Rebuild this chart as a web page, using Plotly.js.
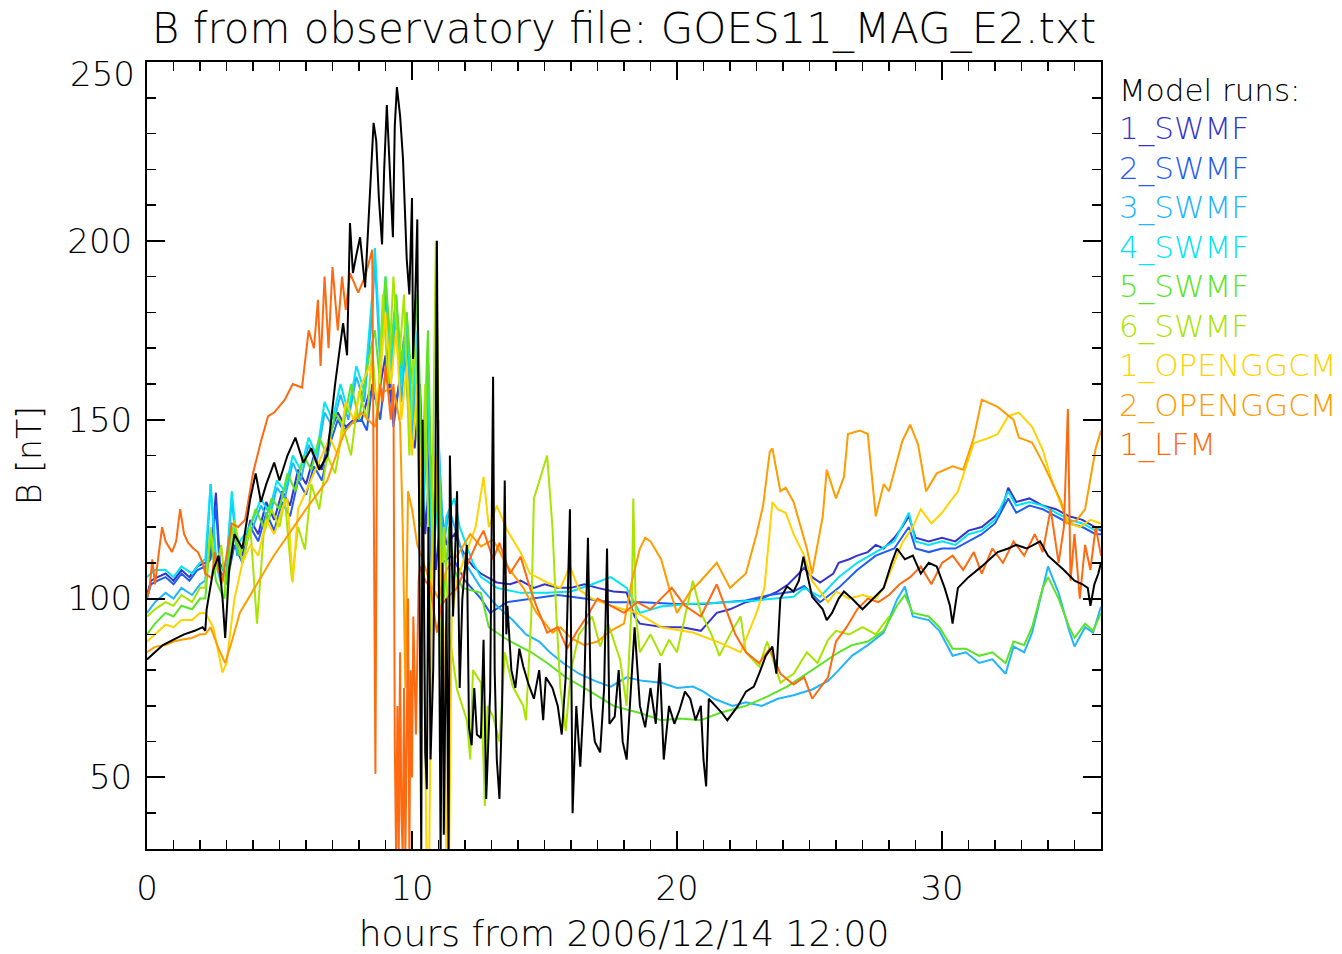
<!DOCTYPE html>
<html>
<head>
<meta charset="utf-8">
<script src="https://cdn.plot.ly/plotly-3.0.1.min.js"></script>
<style>
  html, body { margin: 0; padding: 0; background: #fff; }
  #chart { width: 1342px; height: 954px; }
</style>
</head>
<body>
<div id="chart"></div>
<script>
// ---- Data: [hours, B (nT)] ----
const observed = [[0,83],[0.3,85],[0.6,87],[1.0,88.5],[1.4,90],[1.8,91],[2.1,92],[2.2,91],[2.25,97],[2.5,108],[2.7,112],[2.85,100],[2.95,89],[3.1,108],[3.3,118],[3.6,114],[3.9,128],[4.1,135],[4.3,127],[4.5,132],[4.8,138],[5.0,133],[5.3,140],[5.6,145],[5.9,138],[6.2,142],[6.5,136],[6.8,140],[7.1,160],[7.4,177],[7.55,168],[7.66,205],[7.77,191],[7.9,196],[8.04,201],[8.23,187],[8.4,210],[8.55,233],[8.65,228],[8.75,212],[8.87,199],[8.95,220],[9.05,238],[9.15,222],[9.2,215],[9.28,201],[9.35,232],[9.43,243],[9.55,235],[9.66,223],[9.75,205],[9.8,195],[9.9,185],[10.0,212],[10.04,167],[10.1,178],[10.2,206],[10.25,150],[10.3,100],[10.35,28],[10.4,150],[10.45,100],[10.5,57],[10.56,46.7],[10.62,120],[10.7,55],[10.8,80],[10.88,130],[10.94,200],[11.0,120],[11.08,28],[11.15,110],[11.2,34],[11.3,100],[11.38,28],[11.43,140],[11.55,95],[11.7,130],[11.8,75],[11.9,100],[12.07,115],[12.15,64],[12.25,59],[12.35,75],[12.45,62],[12.6,61],[12.7,88.5],[12.8,44],[12.95,74],[13.06,162],[13.12,80],[13.2,55],[13.3,44],[13.4,70],[13.5,133],[13.56,90],[13.6,98],[13.75,80],[13.9,75],[14.05,86],[14.2,81],[14.4,76],[14.6,72],[14.8,80],[14.95,66],[15.05,78],[15.3,75],[15.5,70],[15.65,62],[15.8,78],[15.96,125],[16.06,40],[16.2,70],[16.35,53],[16.5,75],[16.64,117],[16.75,70],[16.9,60],[17.1,57],[17.25,75],[17.36,114],[17.45,65],[17.65,67],[17.8,80],[17.95,60],[18.1,55],[18.25,75],[18.4,92],[18.6,70],[18.8,64],[19.0,75],[19.2,65],[19.35,82],[19.5,55],[19.7,70],[19.9,65],[20.1,69],[20.3,74],[20.5,72],[20.7,66],[20.9,70],[21.0,55],[21.1,47.5],[21.2,72],[21.45,70],[21.7,68],[21.9,66],[22.3,70],[22.6,74],[22.9,75.4],[23.1,79],[23.35,84],[23.6,86.6],[23.75,79],[23.9,100],[24.15,103.4],[24.4,102],[24.6,105],[24.77,111.7],[25.1,100.5],[25.5,97],[25.65,94],[25.85,96],[26.1,100],[26.3,102],[26.6,100],[27.0,97],[27.4,100],[27.8,103],[28.1,110],[28.3,114],[28.6,111],[28.9,112],[29.2,107],[29.5,110],[29.8,109],[30.1,103],[30.3,98],[30.4,93],[30.6,103],[31.0,106],[31.5,109],[31.8,111],[32.1,113],[32.5,114],[32.8,115],[33.2,114],[33.7,116],[34.0,112],[34.3,110],[34.6,108],[35.0,105],[35.3,104],[35.5,103],[35.6,98],[35.75,104],[35.9,107],[36.0,110]];

const swmf1 = [[0,101],[0.15,105],[0.4,106],[0.7,107],[1.0,105],[1.3,108],[1.6,106],[1.9,109],[2.2,110],[2.4,112],[2.6,129.6],[2.75,110],[3.0,106],[3.3,118],[3.6,112],[3.9,122],[4.2,118],[4.5,127],[4.8,122],[5.1,130],[5.4,126],[5.7,136],[6.0,132],[6.3,140],[6.6,136],[6.9,146],[7.2,152],[7.5,148],[7.8,150],[8.1,150],[8.4,158],[8.7,155],[9.0,168],[9.3,150],[9.55,162],[9.7,173],[9.9,150],[10.1,142],[10.3,160],[10.5,118],[10.7,140],[10.9,108],[11.1,125],[11.3,115],[11.6,118],[12.0,112],[12.3,109],[12.6,107],[13.2,104.5],[13.7,104],[14.1,105],[14.6,103],[15.0,104],[15.5,103],[16.0,103],[16.5,104],[17.0,103],[17.6,102],[18.1,101.7],[18.4,95],[18.6,93],[19.0,92.5],[19.5,92],[20.2,92],[20.9,91],[21.5,96],[22.0,97],[22.6,99],[23.2,100],[23.8,102],[24.2,104],[24.6,107],[24.8,108.6],[25.1,106],[25.4,104.5],[25.9,107],[26.1,110],[26.5,111],[26.8,112],[27.2,113],[27.5,115],[27.8,114],[28.2,117],[28.5,120],[28.75,123],[29.0,117],[29.5,116],[30.0,117],[30.5,116],[31.0,119],[31.5,120],[32.0,123],[32.3,126],[32.5,131],[32.8,127],[33.3,128],[33.8,126],[34.3,125],[34.8,123],[35.3,122],[35.8,120],[36,119]];

const swmf2 = [[0,100],[0.15,104],[0.4,105],[0.7,106],[1.0,104],[1.3,107],[1.6,105],[1.9,108],[2.2,109],[2.4,111],[2.6,126],[2.75,108],[3.0,104],[3.3,115],[3.6,110],[3.9,120],[4.2,116],[4.5,124],[4.8,119],[5.1,127],[5.4,123],[5.7,133],[6.0,129],[6.3,137],[6.6,133],[6.9,143],[7.2,150],[7.4,147],[7.7,149],[8.1,150],[8.3,147],[8.5,160],[8.8,150],[9.1,170],[9.3,148],[9.55,162],[9.75,165],[9.95,145],[10.15,155],[10.35,125],[10.55,150],[10.75,105],[10.95,130],[11.15,110],[11.5,112],[12.0,105],[12.6,100],[12.95,96],[13.6,99],[14.5,100],[15.5,101],[16.5,100],[17.5,99],[18.7,99],[20.0,98.5],[21.0,98.5],[22.6,99.5],[23.5,101],[24.4,102],[24.8,103.5],[25.4,99],[26.1,103],[26.8,108],[27.5,112],[28.2,114],[28.75,120],[29.0,114],[29.5,113],[30.0,114],[30.5,114],[31.0,116],[31.5,118],[32.0,121],[32.5,128],[32.8,124],[33.3,126],[33.8,125],[34.3,123],[34.8,121],[35.3,120],[35.8,118],[36,118]];

const swmf3 = [[0,96],[0.3,99],[0.7,101.6],[1.0,100],[1.3,103],[1.7,101],[2.0,104],[2.2,105],[2.4,132],[2.6,110],[2.8,104],[3.0,108],[3.2,128],[3.4,112],[3.7,116],[4.0,120],[4.3,126],[4.6,122],[4.9,131],[5.2,128],[5.5,138],[5.8,133],[6.1,143],[6.4,138],[6.7,152],[7.0,148],[7.3,157],[7.6,150],[7.9,162],[8.2,155],[8.5,180],[8.6,195],[8.8,165],[9.0,185],[9.2,160],[9.4,180],[9.6,155],[9.8,175],[10.0,145],[10.2,170],[10.4,115],[10.6,160],[10.8,105],[11.0,145],[11.2,115],[11.4,125],[11.7,118],[12.0,110],[12.6,103],[13.2,98],[13.8,94],[14.3,90],[14.8,88],[15.2,85],[15.7,82],[16.3,79],[16.9,77],[17.5,75.4],[18.1,78],[18.7,77],[19.4,76.5],[20.0,75],[20.6,75.4],[21.0,74],[21.4,72],[22.1,70],[22.6,71],[23.2,70],[23.8,72],[24.4,73],[25.1,74.6],[25.7,77],[26.1,80],[26.6,84],[27.2,87],[27.8,90.5],[28.3,99.7],[28.6,103.4],[28.9,95],[29.5,94],[29.9,91],[30.4,84],[30.9,85],[31.4,82],[31.9,83],[32.4,79],[32.7,86.6],[33.1,85],[33.4,90.5],[33.8,103.4],[34.0,109],[34.4,101.6],[34.8,91],[35.0,86.6],[35.4,92],[35.7,90.5],[36.0,97.8]];

const swmf4 = [[0,106],[0.3,108],[0.7,108],[1.0,106],[1.3,109],[1.7,107],[2.0,110],[2.2,111],[2.4,132],[2.6,112],[2.8,108],[3.0,110],[3.2,130],[3.4,115],[3.7,118],[4.0,122],[4.3,128],[4.6,124],[4.9,133],[5.2,130],[5.5,140],[5.8,136],[6.1,145],[6.4,140],[6.7,155],[7.0,150],[7.3,160],[7.6,152],[7.9,165],[8.2,158],[8.5,185],[8.6,198],[8.8,170],[9.0,190],[9.2,165],[9.4,185],[9.6,160],[9.8,180],[10.0,150],[10.2,175],[10.4,120],[10.6,165],[10.8,100],[11.0,150],[11.1,110],[11.3,123],[11.6,128],[11.8,120],[12.3,110],[12.6,106],[13.2,103],[14.1,101.6],[15.1,101.6],[16.0,102],[16.8,104],[17.5,106],[18.1,103],[18.6,96],[19.4,97.8],[20.5,98.5],[21.9,99],[23.0,99.5],[24.4,100.5],[24.8,103],[25.4,100.5],[26.1,106],[26.8,110],[27.5,113],[28.2,116],[28.75,124],[29.0,116],[29.5,115],[30.0,116],[30.5,115],[31.0,118],[31.5,119],[32.0,122],[32.5,130],[32.8,126],[33.3,127],[33.8,126],[34.3,124],[34.8,122],[35.3,121],[35.8,119],[36,120]];

const swmf5 = [[0,90],[0.3,93],[0.7,96],[1.0,95],[1.3,98],[1.7,97],[2.0,100],[2.2,100],[2.4,118],[2.6,105],[2.9,100],[3.2,120],[3.5,112],[3.8,118],[4.1,125],[4.4,120],[4.7,128],[5.0,125],[5.3,135],[5.6,130],[5.9,140],[6.2,136],[6.5,145],[6.8,140],[7.1,152],[7.4,148],[7.7,160],[8.0,150],[8.3,165],[8.6,175],[8.8,160],[9.0,190],[9.2,170],[9.4,185],[9.6,165],[9.8,180],[10.0,160],[10.2,185],[10.4,130],[10.6,175],[10.8,110],[11.0,140],[11.2,100],[11.4,120],[11.6,108],[11.9,103],[12.6,101.6],[12.9,92],[13.6,88.5],[14.5,85],[15.1,82],[15.8,78],[16.8,73.7],[17.6,70],[18.6,68],[19.4,66],[20.1,66.5],[20.9,66],[21.6,68],[22.6,70],[23.4,72.6],[24.15,75.4],[24.9,79],[25.7,83],[26.1,85],[26.6,87],[27.2,88],[27.8,91],[28.3,98],[28.6,101],[28.9,96],[29.5,95],[29.9,92],[30.4,86],[30.9,86],[31.4,84],[31.9,85],[32.4,82],[32.7,88],[33.1,87],[33.4,92],[33.8,103],[34.0,106],[34.4,100],[34.8,92],[35.0,89],[35.4,93],[35.7,91],[36.0,96]];

const swmf6 = [[0,95],[0.3,97],[0.7,99],[1.0,98],[1.3,101],[1.7,99],[2.0,103],[2.2,103],[2.4,120],[2.6,108],[2.8,115],[3.0,100],[3.3,122],[3.6,110],[3.9,120],[4.15,93],[4.4,118],[4.7,125],[5.0,120],[5.2,128],[5.47,105],[5.7,120],[5.96,113.7],[6.2,132],[6.5,125],[6.8,140],[7.1,135],[7.4,148],[7.7,140],[8.0,158],[8.3,150],[8.5,170],[8.7,150],[8.9,185],[9.1,160],[9.3,190],[9.5,165],[9.7,185],[9.9,140],[10.1,175],[10.3,120],[10.5,160],[10.7,90],[10.9,200],[11.0,150],[11.1,80],[11.2,120],[11.4,90.5],[11.7,74.6],[12.07,66],[12.2,55],[12.3,80],[12.6,76.5],[12.75,42],[12.85,70],[13.06,67],[13.3,60],[13.5,85],[13.8,75.4],[14.2,70],[14.3,66],[14.5,95],[14.6,128],[14.8,133],[15.0,138],[15.1,140],[15.3,120],[15.45,95],[15.6,75],[15.8,63],[16.0,80],[16.3,90],[16.8,95],[17.1,86.6],[17.4,93],[17.85,83],[18.1,70],[18.3,100],[18.35,128],[18.45,95],[18.6,85],[19.0,90],[19.4,84],[19.7,88.5],[20.0,85],[20.3,95],[20.6,105],[20.9,96],[21.3,90],[21.6,84],[22.0,90],[22.4,95],[22.6,85],[23.1,81],[23.4,88],[23.9,76.5],[24.4,79],[24.9,85],[25.3,82],[25.7,88.5],[26.0,91],[26.5,90],[27.0,92],[27.5,90],[28.0,95]];

const openggcm1 = [[0,88],[0.3,90],[0.7,92.7],[1.0,92],[1.3,94],[1.7,94],[2.0,96],[2.2,96],[2.5,92],[2.85,79.3],[3.0,82],[3.3,100],[3.6,110],[3.9,115],[4.2,112],[4.5,122],[4.8,118],[5.1,125],[5.3,128],[5.5,104.5],[5.7,125],[6.0,130],[6.3,135],[6.6,140],[6.9,145],[7.2,140],[7.5,155],[7.8,150],[8.1,160],[8.4,165],[8.7,155],[9.0,180],[9.2,160],[9.4,175],[9.6,150],[9.8,165],[10.0,140],[10.2,160],[10.4,120],[10.55,28],[10.65,28],[10.75,100],[10.9,140],[11.05,110],[11.2,90],[11.3,28],[11.4,28],[11.5,95],[11.7,105],[12.0,112],[12.4,120],[12.7,134],[12.9,120],[13.2,126],[13.6,119],[14.1,112.8],[14.45,107],[15.1,104.5],[15.6,103],[15.96,109],[16.3,102.5],[16.8,100],[17.5,98],[18.5,96],[19.4,92],[20.6,90.5],[21.6,87.7],[22.4,85],[23.0,96],[23.3,103],[23.6,127],[23.8,125],[24.1,124],[24.4,118],[24.8,112],[25.1,105],[25.7,99],[26.0,102],[26.5,100],[27.0,101],[27.5,100],[27.8,103],[28.2,110],[28.5,115.6],[28.9,120],[29.2,125],[29.6,121],[30.0,124],[30.6,130],[31.2,143.5],[31.8,145],[32.1,146],[32.5,151],[32.9,152],[33.4,148],[33.8,141.6],[34.1,134],[34.5,126],[34.8,121],[35.2,120],[35.6,122],[36,121]];

const openggcm2 = [[0,85],[0.3,86.5],[0.7,87],[1.0,88],[1.3,88.5],[1.7,89],[2.0,90],[2.2,90],[2.4,92],[2.7,86],[2.95,82],[3.2,88],[3.5,96],[4.76,111.7],[6.0,125],[6.8,133],[7.3,143.6],[7.5,147],[8.1,152],[8.6,148],[8.8,157.5],[9.3,159],[9.55,149],[9.65,120],[9.75,75],[9.85,130],[10.0,125],[10.2,115],[10.4,111],[10.7,104],[11.0,100],[11.3,108],[11.7,112],[12.2,118],[12.6,114.6],[13.06,116.5],[13.6,109],[14.2,103],[14.7,96],[15.3,90.5],[15.6,92],[16.0,89],[16.5,87],[17.0,88],[17.5,91],[18.0,93],[18.3,105],[18.6,114],[18.8,117],[19.0,116],[19.4,111],[19.7,103],[20.0,96],[20.5,102],[20.9,105],[21.5,110],[22.0,103],[22.6,107],[23.0,118],[23.25,126],[23.5,141],[23.6,142],[23.9,130],[24.1,131],[24.4,127],[24.9,114],[25.1,107],[25.5,123],[25.65,136],[26.0,128],[26.3,134],[26.45,146],[26.9,147],[27.2,146],[27.5,123],[27.8,132],[28.0,130],[28.5,144],[28.8,148.6],[29.1,143],[29.4,130],[29.8,135],[30.4,137],[30.8,136],[31.2,145],[31.5,155.6],[32.1,153.6],[32.7,150],[32.9,145],[33.4,143.6],[33.8,138],[34.3,130],[34.5,127],[34.7,121],[35.1,122],[35.4,125],[35.8,142],[36,147]];

const lfm1 = [[0,100],[0.1,103],[0.2,111],[0.3,104],[0.45,113],[0.57,120],[0.7,116],[0.94,113],[1.1,116],[1.25,125],[1.4,118],[1.55,115.6],[1.75,114],[1.92,113],[2.1,110],[2.2,107],[2.45,105.6],[2.55,113],[2.83,104.5],[3.0,112],[3.2,121],[3.44,120],[3.7,122],[4.0,135],[4.3,144],[4.57,151],[4.8,152],[5.2,155.6],[5.5,160],[5.85,159],[6.1,175],[6.3,170],[6.45,183.5],[6.55,165],[6.7,190],[6.85,170],[7.0,192.7],[7.2,175],[7.36,190],[7.5,180.7],[7.66,191],[7.97,185.5],[8.23,190],[8.5,197.5],[8.55,145],[8.62,51],[8.68,150],[8.8,160],[8.9,155],[9.0,165],[9.1,158],[9.2,150],[9.3,160],[9.35,60],[9.4,28],[9.45,70],[9.5,28],[9.55,85],[9.6,40],[9.65,28],[9.7,75],[9.75,28],[9.8,60],[9.85,100],[9.9,28],[9.95,80],[10.0,50],[10.05,95],[10.15,62],[10.25,105],[10.3,109],[10.5,105],[10.7,103],[10.94,90.5],[11.1,98],[11.3,100],[11.7,103],[12.07,109],[12.45,115.6],[12.7,119],[13.06,111],[13.3,115.6],[13.7,107],[14.1,111.7],[14.45,103],[14.7,97.8],[15.1,90.5],[15.5,92],[15.85,86],[16.2,90.5],[16.6,95],[17.0,100],[17.5,98],[18.0,96],[18.5,99],[19.0,97],[19.4,100],[19.8,103],[20.3,98],[20.9,95],[21.5,104],[21.8,98],[22.2,90],[22.6,85],[23.1,82],[23.5,86],[23.9,79],[24.4,76],[24.8,78],[25.1,72],[25.4,75],[25.7,78],[26.0,88],[26.4,92],[26.8,97],[27.2,100],[27.6,99],[28.0,101],[28.4,104],[28.8,106],[29.2,109],[29.6,104],[30.0,110],[30.4,112],[30.8,108],[31.2,113],[31.5,107],[31.9,114],[32.3,110],[32.7,116],[33.1,112],[33.5,118],[33.8,113],[34.1,125],[34.4,110],[34.6,120],[34.75,153],[34.85,105],[35.0,118],[35.2,100],[35.4,115],[35.6,108],[35.8,120],[36,112]];

const runNames  = ['1_SWMF','2_SWMF','3_SWMF','4_SWMF','5_SWMF','6_SWMF','1_OPENGGCM','2_OPENGGCM','1_LFM'];
const runSeries = [swmf1, swmf2, swmf3, swmf4, swmf5, swmf6, openggcm1, openggcm2, lfm1];
const runColors = ['#3434cc','#1f5cf5','#22b4ff','#00e4f4','#5ae424','#a8e400','#ffd200','#ff9c00','#ff6a10'];

const titleText = 'B from observatory file: GOES11_MAG_E2.txt';
const xTitle = 'hours from 2006/12/14 12:00';
const yTitle = 'B [nT]';
const xTicks = [0, 10, 20, 30];
const yTicks = [50, 100, 150, 200, 250];
const yTickText = ['50', '100', '150', '200', ''];   // top label drawn slightly lower, as in the reference
const yTopLabel = '250';

// ---- Build traces ----
const traces = [];
runSeries.forEach((s, i) => {
  traces.push({
    type: 'scatter', mode: 'lines', name: runNames[i],
    x: s.map(p => p[0]), y: s.map(p => p[1]),
    line: { color: runColors[i], width: 2 }, showlegend: false, hoverinfo: 'skip'
  });
});
traces.push({
  type: 'scatter', mode: 'lines', name: 'GOES11',
  x: observed.map(p => p[0]), y: observed.map(p => p[1]),
  line: { color: '#000000', width: 2 }, showlegend: false, hoverinfo: 'skip'
});

// ---- Layout ----
const W = 1342, H = 954;
const L = 147, R = 1101, T = 62, B = 849;
const FONT = '"DejaVu Sans", "Liberation Sans", sans-serif';
const px2x = px => (px - L) / (R - L);
const py2y = py => (B - py) / (B - T);

const annotations = [];
annotations.push({ text: yTopLabel, xref: 'paper', yref: 'paper', x: px2x(137), y: py2y(74),
  xanchor: 'right', yanchor: 'middle', showarrow: false, font: { family: FONT, size: 34, color: '#000', weight: 300 } });
annotations.push({ text: 'Model runs:', xref: 'paper', yref: 'paper', x: px2x(1117), y: py2y(90),
  xanchor: 'left', yanchor: 'middle', showarrow: false, font: { family: FONT, size: 31, color: '#000', weight: 300 } });
const legendY = [128, 168, 208, 247, 286, 326, 365, 405, 444];
runNames.forEach((n, i) => {
  annotations.push({ text: n, xref: 'paper', yref: 'paper', x: px2x(1117), y: py2y(legendY[i]),
    xanchor: 'left', yanchor: 'middle', showarrow: false,
    font: { family: FONT, size: 31, color: runColors[i], weight: 300 } });
});

const axisCommon = {
  showgrid: false, zeroline: false, showline: true, linecolor: '#000', linewidth: 2,
  mirror: 'ticks', ticks: 'inside', ticklen: 18, tickwidth: 2, tickcolor: '#000',
  tickfont: { family: FONT, size: 34, color: '#000', weight: 300 },
};

const layout = {
  width: W, height: H,
  paper_bgcolor: '#fff', plot_bgcolor: '#fff',
  margin: { l: L, r: W - R, t: T, b: H - B, pad: 0 },
  title: { text: titleText, x: 0.5, xref: 'paper', y: 1 - 28 / H, yref: 'container', yanchor: 'middle',
    font: { family: FONT, size: 42, color: '#000', weight: 300 } },
  xaxis: Object.assign({}, axisCommon, {
    range: [0, 36], tickmode: 'array', tickvals: xTicks, ticklabelstandoff: 8,
    minor: { dtick: 1, ticks: 'inside', ticklen: 9, tickwidth: 1.5, tickcolor: '#000', showgrid: false },
    title: { text: xTitle, standoff: 16, font: { family: FONT, size: 36, color: '#000', weight: 300 } },
    automargin: false
  }),
  yaxis: Object.assign({}, axisCommon, {
    range: [30, 250], tickmode: 'array', tickvals: yTicks, ticktext: yTickText, ticklabelstandoff: 6,
    minor: { dtick: 10, ticks: 'inside', ticklen: 9, tickwidth: 1.5, tickcolor: '#000', showgrid: false },
    title: { text: yTitle, standoff: 16, font: { family: FONT, size: 33, color: '#000', weight: 300 } },
    automargin: false
  }),
  annotations: annotations,
  showlegend: false
};

Plotly.newPlot('chart', traces, layout, { staticPlot: true, displayModeBar: false });
</script>
</body>
</html>
